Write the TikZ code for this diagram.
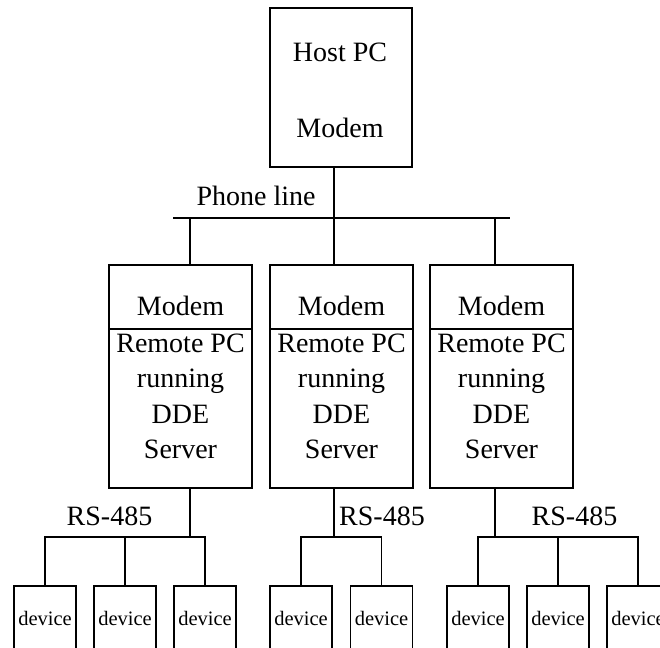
\documentclass[tikz,border=0pt]{standalone}
\usepackage{fontspec}
\setmainfont{Liberation Serif}
\begin{document}
\begin{tikzpicture}[x=1pt, y=-1pt,
  wire/.style={line width=1.4pt},
  unit/.style={draw, line width=1.4pt, inner sep=0pt, minimum width=143pt},
  devbox/.style={draw, line width=1.4pt, inner sep=0pt, minimum width=62pt, minimum height=64pt, font=\fontsize{20.5}{24}\selectfont},
  lbl/.style={anchor=base, inner sep=0pt, font=\fontsize{28}{34}\selectfont},
  block/.style={anchor=north, align=center, inner sep=0pt, font=\fontsize{28}{35.4}\selectfont}]
% Page size
\useasboundingbox (0,0) rectangle (660,647);
\clip (0,0) rectangle (660,647);

% Host PC box
\node[unit, minimum width=142pt, minimum height=159pt] (host) at (341,87.5) {};
\node[lbl] (hostpc) at (340,62) {Host PC};
\node[lbl] (hostmodem) at (340,138) {Modem};

% Phone line
\coordinate (phoneL) at (173,218);
\coordinate (phoneR) at (510,218);
\coordinate (phoneC) at (334,218);
\draw[wire] (phoneL) -- (phoneR);
\draw[wire] (phoneC |- host.south) -- (phoneC);
\node[lbl] (phonelbl) at (256,205) {Phone line};

% Remote PCs
\node[unit, minimum height=64pt] (modemA) at (180.5,297) {};
\node[unit, minimum height=159pt] (pcA) at (180.5,408.5) {};
\node[lbl] (modemAtxt) at (180.5,315) {Modem};
\node[block] (pcAtxt) at (180.5,333.5) {Remote PC\\running\\DDE\\Server};
\node[unit, minimum height=64pt] (modemB) at (341.5,297) {};
\node[unit, minimum height=159pt] (pcB) at (341.5,408.5) {};
\node[lbl] (modemBtxt) at (341.5,315) {Modem};
\node[block] (pcBtxt) at (341.5,333.5) {Remote PC\\running\\DDE\\Server};
\node[unit, minimum height=64pt] (modemC) at (501.5,297) {};
\node[unit, minimum height=159pt] (pcC) at (501.5,408.5) {};
\node[lbl] (modemCtxt) at (501.5,315) {Modem};
\node[block] (pcCtxt) at (501.5,333.5) {Remote PC\\running\\DDE\\Server};

% Taps off the phone line
\coordinate (tapA) at (190,218);
\coordinate (tapB) at (334,218);
\coordinate (tapC) at (495,218);
\draw[wire] (tapA) -- (tapA |- modemA.north);
\draw[wire] (tapB) -- (tapB |- modemB.north);
\draw[wire] (tapC) -- (tapC |- modemC.north);

% Devices
\node[devbox] (devA1) at (45,618) {device};
\node[devbox] (devA2) at (125,618) {device};
\node[devbox] (devA3) at (205,618) {device};
\node[devbox] (devB1) at (301,618) {device};
\node[devbox] (devB2) at (381.5,618) {device};
\node[devbox] (devC1) at (478,618) {device};
\node[devbox] (devC2) at (558,618) {device};
\node[devbox] (devC3) at (638,618) {device};

% RS-485 buses
\coordinate (rsA) at (190,537);
\coordinate (rsB) at (334,537);
\coordinate (rsC) at (495,537);
\draw[wire] (rsA |- pcA.south) -- (rsA);
\draw[wire] (rsB |- pcB.south) -- (rsB);
\draw[wire] (rsC |- pcC.south) -- (rsC);
\draw[wire] (devA1.north) -- (devA1.north |- rsA) -- (devA3.north |- rsA) -- (devA3.north);
\draw[wire] (devA2.north) -- (devA2.north |- rsA);
\draw[wire] (devB1.north) -- (devB1.north |- rsB) -- (devB2.north |- rsB) -- (devB2.north);
\draw[wire] (devC1.north) -- (devC1.north |- rsC) -- (devC3.north |- rsC) -- (devC3.north);
\draw[wire] (devC2.north) -- (devC2.north |- rsC);
\node[lbl] (rsAlbl) at (109.5,525) {RS-485};
\node[lbl] (rsBlbl) at (382,525) {RS-485};
\node[lbl] (rsClbl) at (574.5,525) {RS-485};
\end{tikzpicture}
\end{document}
